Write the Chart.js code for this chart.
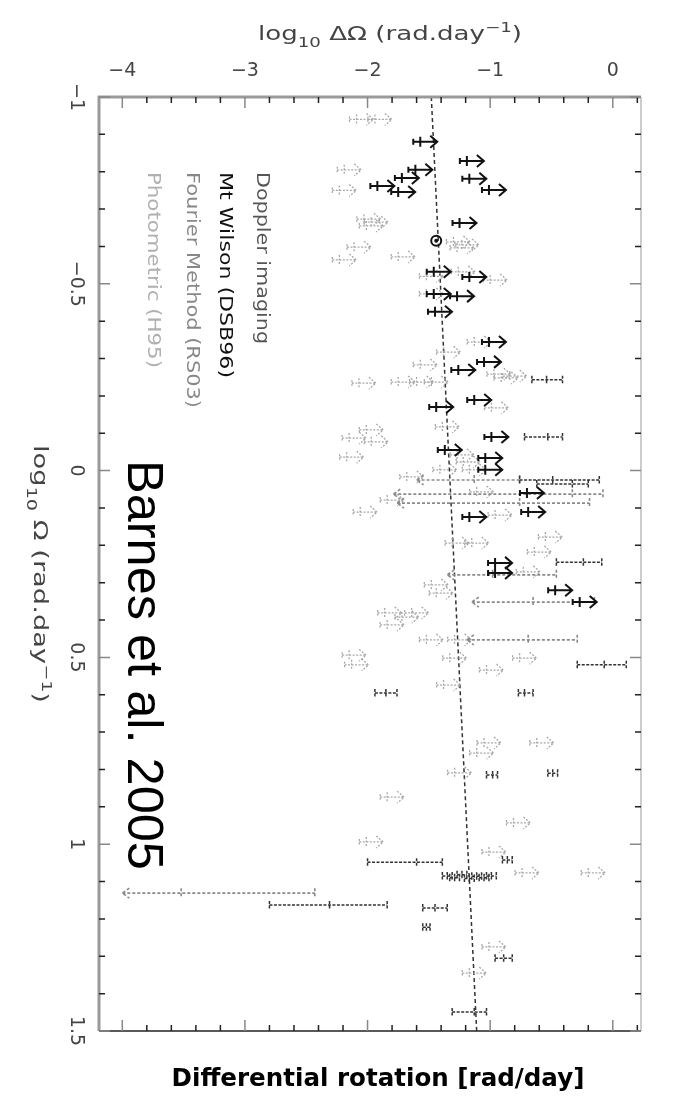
<!DOCTYPE html>
<html>
<head>
<meta charset="utf-8">
<script src="https://cdn.jsdelivr.net/npm/chart.js@4"></script>
<style>
  html, body { margin: 0; padding: 0; background: #fff; }
  #wrap { width: 683px; height: 1099px; position: relative; }
</style>
</head>
<body>
<div id="wrap"><canvas id="chart"></canvas></div>
<script>
// values: x = log10 dOmega, y = log10 Omega
const xTicks = [-4, -3, -2, -1, 0];
const yTicks = [-1, -0.5, 0, 0.5, 1, 1.5];

// Photometric (H95) - light grey lower limits
const photX = [-2.09, -1.94, -2.19, -2.23, -2.03, -2.01, -1.97, -2.11, -2.23, -1.75,
  -1.30, -1.27, -1.23, -1.52, -1.26, -1.00, -1.52, -1.13, -1.38, -1.57,
  -0.97, -0.91, -0.84, -2.07, -1.75, -1.60, -1.48, -0.99, -1.39, -2.15,
  -2.01, -1.97, -1.27, -2.17, -1.22, -1.41, -1.17, -1.68, -1.11, -1.84,
  -2.06, -0.96, -1.31, -1.15, -0.55, -0.64, -0.73, -1.48, -1.44, -1.86,
  -1.72, -1.64, -1.84, -1.52, -1.29, -2.15, -2.13, -1.33, -0.76, -1.03,
  -1.38, -1.05, -0.62, -1.11, -1.29, -1.84, -0.81, -2.01, -1.01, -0.74,
  -0.20, -1.01, -1.17];
const photY = [-0.94, -0.94, -0.805, -0.75, -0.673, -0.655, -0.665, -0.598, -0.564, -0.572,
  -0.612, -0.596, -0.604, -0.52, -0.532, -0.51, -0.473, -0.344, -0.317, -0.283,
  -0.258, -0.248, -0.253, -0.234, -0.237, -0.237, -0.237, -0.168, -0.117, -0.087,
  -0.109, -0.077, -0.042, -0.036, -0.023, -0.002, -0.002, 0.017, 0.057, 0.079,
  0.111, 0.119, 0.194, 0.194, 0.178, 0.218, 0.271, 0.306, 0.328, 0.381,
  0.392, 0.381, 0.413, 0.453, 0.453, 0.494, 0.52, 0.502, 0.502, 0.534,
  0.574, 0.729, 0.729, 0.756, 0.809, 0.874, 0.943, 0.994, 1.021, 1.077,
  1.077, 1.275, 1.345];

// Mt Wilson (DSB96) - black lower limits
const wilsonX = [-1.57, -1.19, -1.61, -1.72, -1.17, -1.92, -1.01, -1.75, -1.25, -1.46,
  -1.17, -1.46, -1.27, -1.45, -1.01, -1.26, -1.05, -1.44, -1.13, -0.99,
  -1.37, -1.04, -1.04, -0.70, -1.17, -0.69, -0.96, -0.96, -0.47, -0.27];
const wilsonY = [-0.88, -0.829, -0.805, -0.783, -0.781, -0.762, -0.751, -0.746, -0.663, -0.532,
  -0.518, -0.473, -0.467, -0.425, -0.344, -0.269, -0.291, -0.17, -0.189, -0.09,
  -0.055, -0.034, -0.002, 0.06, 0.124, 0.111, 0.247, 0.274, 0.32, 0.352];

// Doppler imaging - measurements with error bars
const dopX = [-0.54, -0.53, -0.49, -0.33, -0.24, -0.07, -1.85, -0.72, -1.60, -2.31,
  -1.45, -1.52, -0.89, -1.13, -0.86, -0.49, -0.98,
  -1.35, -1.29, -1.23, -1.17, -1.11, -1.05, -0.99];
const dopLo = [-0.66, -0.72, -0.76, -0.62, -0.46, -0.29, -1.94, -0.77, -2.00, -2.80,
  -1.55, -1.55, -0.96, -1.31, -0.90, -0.53, -1.03,
  -1.39, -1.33, -1.27, -1.21, -1.15, -1.09, -1.03];
const dopHi = [-0.41, -0.41, -0.11, -0.20, -0.09, 0.11, -1.76, -0.65, -1.39, -1.84,
  -1.35, -1.49, -0.82, -1.03, -0.82, -0.45, -0.94,
  -1.31, -1.25, -1.19, -1.13, -1.07, -1.01, -0.95];
const dopY = [-0.243, -0.09, 0.025, 0.036, 0.245, 0.52, 0.595, 0.595, 1.048, 1.163,
  1.171, 1.222, 1.305, 1.449, 1.042, 0.81, 0.815,
  1.085, 1.09, 1.082, 1.092, 1.086, 1.09, 1.085];

// Fourier Method (RS03) - upper limits with long error bars
const fourX = [-1.13, -0.33, -0.76, -0.98, -0.65, -0.69, -3.52];
const fourLo = [-1.60, -1.79, -1.76, -1.35, -1.15, -1.19, -4.00];
const fourHi = [-0.76, -0.08, -0.19, -0.46, -0.15, -0.29, -2.43];
const fourY = [0.025, 0.063, 0.087, 0.279, 0.352, 0.453, 1.131];

// the Sun
const sunX = [-1.44];
const sunY = [-0.615];

// fitted relation (dashed)
const trendX = [-1.48, -1.11];
const trendY = [-1, 1.5];

const FONT = '"DejaVu Sans", "Liberation Sans", sans-serif';

function pts(xs, ys, lo, hi) {
  return xs.map((v, i) => ({ x: v, y: ys[i], lo: lo ? lo[i] : null, hi: hi ? hi[i] : null }));
}

// rich text (sub/superscripts), stretched to a given length, centred on origin
function drawRich(ctx, parts, size, target) {
  let w = 0;
  parts.forEach(p => {
    ctx.font = (p[1] ? size * 0.7 : size) + 'px ' + FONT;
    w += ctx.measureText(p[0]).width;
  });
  const s = target / w;
  ctx.scale(s, 1);
  let x = -w / 2;
  parts.forEach(p => {
    ctx.font = (p[1] ? size * 0.7 : size) + 'px ' + FONT;
    const dy = p[1] === -1 ? size * 0.35 : (p[1] === 1 ? -size * 0.4 : 0);
    ctx.fillText(p[0], x, dy);
    x += ctx.measureText(p[0]).width;
  });
}

const glyphPlugin = {
  id: 'glyphs',
  afterDatasetsDraw(chart) {
    const ctx = chart.ctx;
    const xs = chart.scales.x, ys = chart.scales.y;
    const a = chart.chartArea;
    ctx.save();
    ctx.beginPath();
    ctx.rect(a.left, a.top, a.right - a.left, a.bottom - a.top);
    ctx.clip();
    chart.data.datasets.forEach(ds => {
      if (!ds.glyph) return;
      ctx.strokeStyle = ds.glyphColor;
      ctx.lineWidth = ds.glyphWidth;
      ctx.setLineDash(ds.glyphDash || []);
      ds.data.forEach(d => {
        const px = xs.getPixelForValue(d.x);
        const py = ys.getPixelForValue(d.y);
        ctx.beginPath();
        if (ds.glyph === 'lower') {
          ctx.moveTo(px - 7, py); ctx.lineTo(px + 17, py);
          ctx.moveTo(px, py - 5); ctx.lineTo(px, py + 5);
          ctx.moveTo(px - 7, py - 3); ctx.lineTo(px - 7, py + 3);
          ctx.moveTo(px + 10, py - 6); ctx.lineTo(px + 17, py); ctx.lineTo(px + 10, py + 6);
        } else if (ds.glyph === 'bar') {
          const l = xs.getPixelForValue(d.lo), h = xs.getPixelForValue(d.hi);
          ctx.moveTo(l, py); ctx.lineTo(h, py);
          ctx.moveTo(l, py - 4); ctx.lineTo(l, py + 4);
          ctx.moveTo(h, py - 4); ctx.lineTo(h, py + 4);
          ctx.moveTo(px, py - 4); ctx.lineTo(px, py + 4);
        } else if (ds.glyph === 'upper') {
          const l = xs.getPixelForValue(d.lo), h = xs.getPixelForValue(d.hi);
          ctx.moveTo(l, py); ctx.lineTo(h, py);
          ctx.moveTo(l + 7, py - 5); ctx.lineTo(l, py); ctx.lineTo(l + 7, py + 5);
          ctx.moveTo(h, py - 5); ctx.lineTo(h, py + 5);
          ctx.moveTo(px, py - 5); ctx.lineTo(px, py + 5);
        } else if (ds.glyph === 'sun') {
          ctx.arc(px, py, 5, 0, Math.PI * 2);
          ctx.moveTo(px + 1, py); ctx.arc(px, py, 1, 0, Math.PI * 2);
        }
        ctx.stroke();
      });
    });
    ctx.restore();
  },
  afterDraw(chart) {
    const ctx = chart.ctx;
    const xs = chart.scales.x, ys = chart.scales.y;
    const a = chart.chartArea;
    ctx.save();
    // frame
    ctx.strokeStyle = '#9a9a9a';
    ctx.lineWidth = 3;
    ctx.beginPath();
    ctx.moveTo(a.left, a.bottom); ctx.lineTo(a.left, a.top); ctx.lineTo(a.right, a.top);
    ctx.stroke();
    ctx.lineWidth = 1.5;
    ctx.strokeStyle = '#bbb';
    ctx.beginPath();
    ctx.moveTo(a.right, a.top); ctx.lineTo(a.right, a.bottom);
    ctx.stroke();
    ctx.strokeStyle = '#222';
    ctx.beginPath();
    ctx.moveTo(a.left, a.bottom); ctx.lineTo(a.right, a.bottom);
    ctx.stroke();
    // x ticks, top and bottom
    ctx.lineWidth = 1.5;
    for (let i = -21; i <= 1; i++) {
      const v = i * 0.2;
      const px = xs.getPixelForValue(v);
      if (px < a.left || px > a.right) continue;
      const major = Math.abs(v - Math.round(v)) < 1e-6;
      const len = major ? 11 : 6;
      ctx.strokeStyle = major ? '#888' : '#222';
      ctx.beginPath();
      ctx.moveTo(px, a.top); ctx.lineTo(px, a.top + len);
      ctx.moveTo(px, a.bottom); ctx.lineTo(px, a.bottom - len);
      ctx.stroke();
    }
    // y ticks
    for (let i = -10; i <= 15; i++) {
      const v = i * 0.1;
      const py = ys.getPixelForValue(v);
      const major = i % 5 === 0;
      const len = major ? 11 : 6;
      ctx.strokeStyle = major ? '#888' : '#222';
      ctx.beginPath();
      ctx.moveTo(a.left, py); ctx.lineTo(a.left + len, py);
      ctx.moveTo(a.right, py); ctx.lineTo(a.right - len, py);
      ctx.stroke();
    }
    // rotated y tick labels
    ctx.fillStyle = '#444';
    ctx.font = '19px ' + FONT;
    ctx.textAlign = 'center';
    ctx.textBaseline = 'middle';
    yTicks.forEach(v => {
      const py = ys.getPixelForValue(v);
      ctx.save();
      ctx.translate(76, py);
      ctx.rotate(Math.PI / 2);
      ctx.fillText(String(v).replace('-', '\u2212'), 0, 0);
      ctx.restore();
    });
    // axis titles
    ctx.textAlign = 'left';
    ctx.textBaseline = 'alphabetic';
    ctx.fillStyle = '#444';
    ctx.save();
    ctx.translate(390, 40);
    drawRich(ctx, [['log', 0], ['10', -1], [' \u0394\u03A9 (rad.day', 0], ['\u22121', 1], [')', 0]], 19, 264);
    ctx.restore();
    ctx.save();
    ctx.translate(34, 574);
    ctx.rotate(Math.PI / 2);
    drawRich(ctx, [['log', 0], ['10', -1], [' \u03A9 (rad.day', 0], ['\u22121', 1], [')', 0]], 19, 258);
    ctx.restore();
    // legend, rotated
    const legend = [
      ['Doppler imaging', '#555', 262, 172],
      ['Mt Wilson (DSB96)', '#111', 225, 206],
      ['Fourier Method (RS03)', '#888', 192, 236],
      ['Photometric (H95)', '#b0b0b0', 153, 196]
    ];
    ctx.textBaseline = 'middle';
    ctx.font = '18px ' + FONT;
    legend.forEach(l => {
      ctx.save();
      ctx.fillStyle = l[1];
      ctx.translate(l[2], 172);
      ctx.rotate(Math.PI / 2);
      ctx.scale(l[3] / ctx.measureText(l[0]).width, 1);
      ctx.fillText(l[0], 0, 0);
      ctx.restore();
    });
    // big annotation
    ctx.save();
    ctx.fillStyle = '#000';
    let fs = 46;
    ctx.font = fs + 'px "Liberation Sans", Arial, sans-serif';
    fs = fs * 410 / ctx.measureText('Barnes et al. 2005').width;
    ctx.font = fs + 'px "Liberation Sans", Arial, sans-serif';
    ctx.translate(142, 460);
    ctx.rotate(Math.PI / 2);
    ctx.fillText('Barnes et al. 2005', 0, 0);
    ctx.restore();
    // bottom caption
    ctx.save();
    ctx.fillStyle = '#000';
    ctx.textAlign = 'center';
    let bs = 18;
    ctx.font = 'bold ' + bs + 'px "DejaVu Sans", sans-serif';
    bs = bs * 413 / ctx.measureText('Differential rotation [rad/day]').width;
    ctx.font = 'bold ' + bs + 'px "DejaVu Sans", sans-serif';
    ctx.fillText('Differential rotation [rad/day]', 378, 1080);
    ctx.restore();
    ctx.restore();
  }
};

const ctx = document.getElementById('chart').getContext('2d');
new Chart(ctx, {
  type: 'scatter',
  data: {
    datasets: [
      {
        type: 'line', label: 'fit', data: pts(trendX, trendY),
        borderColor: '#333', borderWidth: 1.5, borderDash: [4, 3],
        pointRadius: 0, fill: false
      },
      { label: 'Photometric (H95)', data: pts(photX, photY), pointRadius: 0,
        glyph: 'lower', glyphColor: '#a8a8a8', glyphWidth: 1.3, glyphDash: [2, 1.5] },
      { label: 'Fourier Method (RS03)', data: pts(fourX, fourY, fourLo, fourHi), pointRadius: 0,
        glyph: 'upper', glyphColor: '#8a8a8a', glyphWidth: 1.6, glyphDash: [3, 2] },
      { label: 'Doppler imaging', data: pts(dopX, dopY, dopLo, dopHi), pointRadius: 0,
        glyph: 'bar', glyphColor: '#333', glyphWidth: 1.5, glyphDash: [3, 1.5] },
      { label: 'Mt Wilson (DSB96)', data: pts(wilsonX, wilsonY), pointRadius: 0,
        glyph: 'lower', glyphColor: '#111', glyphWidth: 2 },
      { label: 'Sun', data: pts(sunX, sunY), pointRadius: 0,
        glyph: 'sun', glyphColor: '#111', glyphWidth: 2 }
    ]
  },
  options: {
    responsive: true,
    maintainAspectRatio: false,
    animation: false,
    devicePixelRatio: 1,
    layout: { padding: { top: 0, left: 0, right: 42, bottom: 68 } },
    plugins: { legend: { display: false }, tooltip: { enabled: false } },
    scales: {
      x: {
        type: 'linear', position: 'top', min: -4.19, max: 0.23,
        grid: { display: false },
        border: { display: false },
        afterBuildTicks: s => { s.ticks = xTicks.map(v => ({ value: v })); },
        ticks: {
          autoSkip: false, maxRotation: 0, padding: 7,
          color: '#444', font: { size: 19, family: FONT },
          callback: v => String(v).replace('-', '\u2212')
        },
        afterFit: s => { s.height = 97; }
      },
      y: {
        type: 'linear', min: -1, max: 1.5, reverse: true,
        grid: { display: false },
        border: { display: false },
        ticks: { display: false },
        afterFit: s => { s.width = 99; }
      }
    }
  },
  plugins: [glyphPlugin]
});
</script>
</body>
</html>
